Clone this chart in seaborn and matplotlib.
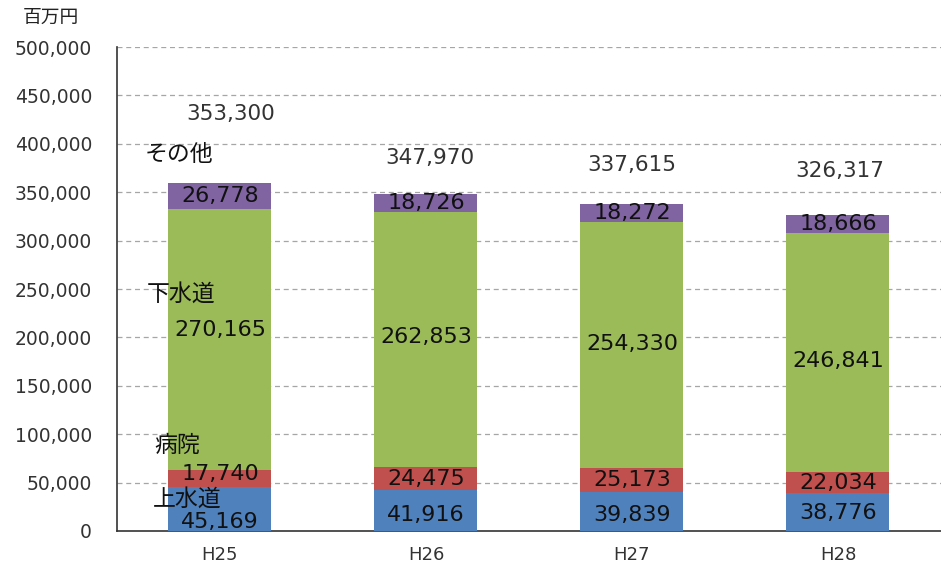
import matplotlib
matplotlib.use("Agg")
import matplotlib.pyplot as plt
import seaborn as sns
import numpy as np
import pandas as pd

categories = ["H25", "H26", "H27", "H28"]
series_names = ["上水道", "病院", "下水道", "その他"]
water = [45169, 41916, 39839, 38776]
hospital = [17740, 24475, 25173, 22034]
sewer = [270165, 262853, 254330, 246841]
other = [26778, 18726, 18272, 18666]
totals = [353300, 347970, 337615, 326317]
colors = ["#4F81BD", "#C0504D", "#9BBB59", "#8064A2"]

sns.set_theme(style="white")
plt.rcParams["font.family"] = ["DejaVu Sans", "Noto Sans CJK JP"]

fig = plt.figure(figsize=(9.41, 5.72), dpi=100)
ax = fig.add_axes([0.1243, 0.0717, 0.8757, 0.8461])

series = [water, hospital, sewer, other]
cum = np.cumsum(np.array(series), axis=0)
# draw from top to bottom so lower stacks overlap
for i in range(len(series) - 1, -1, -1):
    df = pd.DataFrame({"cat": categories, "val": cum[i]})
    sns.barplot(data=df, x="cat", y="val", color=colors[i], saturation=1,
                width=0.5, ax=ax, zorder=3, edgecolor="none")

# segment value labels (vertical nudges, in data units)
label_dy = [[-13000, -4000, -3000, -1000],
            [4500, 0, 0, 0],
            [9600, 2600, 1500, -8600],
            [0, 0, 0, 0]]
for i, s in enumerate(series):
    for j, v in enumerate(s):
        bottom = cum[i][j] - v
        ax.text(j, bottom + v / 2 + label_dy[i][j], f"{v:,}", ha="center", va="center",
                fontsize=16, color="#111111", zorder=5)

# totals
total_offsets = [78000, 37000, 40000, 46000]
total_dx = [0.05, 0.02, 0.0, 0.01]
for j, t in enumerate(totals):
    ax.text(j + total_dx[j], t + total_offsets[j], f"{t:,}", ha="center",
            va="center", fontsize=15.5, color="#333333", zorder=5)

# series names near the first bar
name_pos = [(-0.16, 32500), (-0.21, 88500), (-0.19, 244500), (-0.20, 389000)]
for name, (x, y) in zip(series_names, name_pos):
    ax.text(x, y, name, ha="center", va="center", fontsize=16.5,
            color="#111111", zorder=6)

ax.set_ylim(0, 500000)
ax.set_xlim(-0.5, 3.5)
yt = np.arange(0, 500001, 50000)
ax.set_yticks(yt)
ax.set_yticklabels([f"{v:,}" for v in yt], fontsize=13.5, color="#333333")
ax.set_xticks(range(4))
ax.set_xticklabels(categories, fontsize=13, color="#333333")
ax.set_xlabel("")
ax.set_ylabel("")
for y in yt[1:]:
    ax.axhline(y, color="#A6A6A6", linestyle=(0, (4, 3)), linewidth=0.9, zorder=1)

for sp in ["top", "right"]:
    ax.spines[sp].set_visible(False)
for sp in ["left", "bottom"]:
    ax.spines[sp].set_color("#333333")
    ax.spines[sp].set_linewidth(1.2)

ax.tick_params(axis="y", direction="in", length=5, color="#333333", pad=18)
ax.tick_params(axis="x", length=0, pad=11)
# category boundary ticks on x axis
ax.set_xticks([0.5, 1.5, 2.5, 3.5], minor=True)
ax.tick_params(axis="x", which="minor", direction="in", length=5, color="#333333")

fig.text(0.054, 0.970, "百万円", ha="center", va="center", fontsize=13.5, color="#222222")

fig.savefig("out.png", dpi=100)
